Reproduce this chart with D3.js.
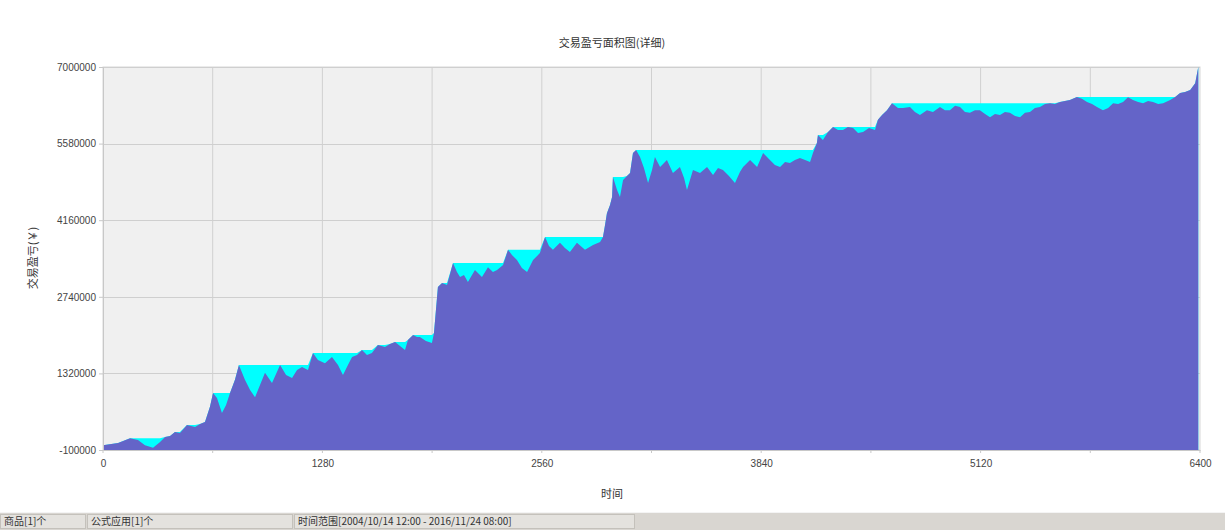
<!DOCTYPE html>
<html>
<head>
<meta charset="utf-8">
<script src="https://cdn.jsdelivr.net/npm/d3@7/dist/d3.min.js"></script>
<style>
  html, body { margin: 0; padding: 0; background: #ffffff; }
  svg { display: block; }
</style>
</head>
<body>
<svg id="chart" width="1225" height="530"></svg>
<script>
// ---- data ----
const title = "交易盈亏面积图(详细)";
const yLabel = "交易盈亏(￥)";
const xLabel = "时间";
const statusTexts = ["商品[1]个", "公式应用[1]个", "时间范围[2004/10/14 12:00 - 2016/11/24 08:00]"];

const xTicks = [0, 1280, 2560, 3840, 5120, 6400];
const yTicks = [-100000, 1320000, 2740000, 4160000, 5580000, 7000000];

const times = [0,88,158,204,245,292,333,362,391,420,449,490,537,566,595,624,642,665,694,718,741,770,793,828,858,887,916,945,986,1033,1068,1103,1132,1161,1196,1225,1254,1295,1336,1371,1400,1429,1453,1482,1511,1540,1569,1604,1645,1674,1704,1733,1762,1779,1809,1832,1849,1884,1919,1931,1954,1978,2007,2042,2065,2083,2106,2129,2170,2211,2246,2275,2299,2334,2363,2386,2415,2444,2474,2509,2549,2579,2602,2625,2666,2695,2724,2765,2812,2859,2900,2917,2929,2940,2958,2970,2975,2999,3016,3034,3057,3075,3092,3110,3133,3156,3180,3203,3220,3250,3273,3290,3325,3366,3390,3407,3442,3483,3524,3559,3588,3617,3652,3687,3716,3734,3775,3816,3851,3891,3920,3950,3979,4008,4037,4066,4096,4125,4142,4165,4171,4200,4230,4259,4288,4317,4346,4376,4405,4434,4469,4504,4521,4545,4574,4603,4638,4667,4708,4737,4766,4807,4842,4883,4912,4941,4971,5000,5029,5058,5087,5116,5146,5175,5204,5233,5262,5291,5321,5350,5379,5408,5437,5466,5496,5525,5554,5583,5612,5641,5682,5711,5741,5770,5799,5834,5864,5893,5922,5951,5980,6009,6039,6068,6097,6126,6156,6185,6226,6255,6284,6313,6343,6372,6390];

const equity = [-10000,30000,120000,85000,-10000,-60000,50000,140000,160000,235000,215000,365000,325000,380000,420000,700000,955000,865000,585000,735000,955000,1200000,1475000,1200000,1010000,880000,1105000,1330000,1140000,1475000,1290000,1235000,1385000,1440000,1385000,1700000,1570000,1510000,1625000,1475000,1290000,1475000,1625000,1660000,1755000,1660000,1700000,1845000,1810000,1865000,1900000,1830000,1755000,1940000,2030000,1995000,1995000,1920000,1885000,2070000,2920000,2995000,2960000,3365000,3200000,3105000,3145000,3015000,3235000,3105000,3290000,3200000,3235000,3330000,3610000,3515000,3420000,3275000,3200000,3420000,3550000,3850000,3680000,3610000,3740000,3645000,3570000,3740000,3610000,3700000,3755000,3850000,4070000,4290000,4440000,4590000,4960000,4720000,4590000,4905000,4980000,5035000,5405000,5460000,5330000,5130000,4850000,5090000,5330000,5145000,5220000,5275000,5035000,5145000,4940000,4720000,5090000,5035000,5145000,5000000,5130000,5090000,4980000,4850000,5055000,5145000,5275000,5145000,5405000,5275000,5185000,5145000,5240000,5220000,5275000,5315000,5275000,5240000,5405000,5590000,5740000,5645000,5795000,5890000,5830000,5830000,5890000,5870000,5775000,5795000,5870000,5830000,6020000,6110000,6200000,6330000,6240000,6240000,6260000,6165000,6110000,6200000,6165000,6260000,6200000,6200000,6280000,6260000,6165000,6150000,6200000,6200000,6130000,6070000,6130000,6110000,6165000,6150000,6090000,6070000,6150000,6165000,6240000,6260000,6315000,6330000,6315000,6350000,6370000,6390000,6445000,6410000,6350000,6315000,6260000,6200000,6240000,6330000,6315000,6350000,6440000,6390000,6350000,6330000,6370000,6350000,6315000,6330000,6390000,6445000,6520000,6535000,6575000,6700000,7000000];

// ---- chart ----
const svg = d3.select("#chart");
const W = 1225, H = 530;
const plot = { left: 103, right: 1200, top: 67, bottom: 450 };
const cjk = "'Noto Sans CJK SC', 'Noto Sans', sans-serif";
const num = "'Liberation Sans', 'DejaVu Sans', sans-serif";

const x = d3.scaleLinear().domain([0, 6400]).range([plot.left, plot.right]);
const y = d3.scaleLinear().domain([-100000, 7000000]).range([plot.bottom, plot.top]);

// plot background
svg.append("rect")
  .attr("x", plot.left).attr("y", plot.top)
  .attr("width", plot.right - plot.left).attr("height", plot.bottom - plot.top)
  .attr("fill", "#f0f0f0").attr("stroke", "#d8d8d8");

// grid lines
const gridX = d3.range(640, 6400, 640);
svg.append("g").selectAll("line").data(gridX).join("line")
  .attr("x1", d => x(d)).attr("x2", d => x(d))
  .attr("y1", plot.top).attr("y2", plot.bottom)
  .attr("stroke", "#d0d0d0").attr("stroke-width", 1);
svg.append("g").selectAll("line").data(yTicks.slice(1)).join("line")
  .attr("x1", plot.left).attr("x2", plot.right)
  .attr("y1", d => Math.round(y(d)) + 0.5).attr("y2", d => Math.round(y(d)) + 0.5)
  .attr("stroke", "#cfcfcf").attr("stroke-width", 1);

const n = Math.min(times.length, equity.length);
const pts = d3.range(n).map(i => ({ t: times[i], v: equity[i] }));
// running maximum (the high-water mark) of the equity series
const peakPts = [];
let runMax = -Infinity;
for (const p of pts) { runMax = Math.max(runMax, p.v); peakPts.push({ t: p.t, v: runMax }); }

// drawdown (cyan) = running maximum area
svg.append("path").datum(peakPts)
  .attr("fill", "#00ffff")
  .attr("d", d3.area().x(d => x(d.t)).y0(y(-100000)).y1(d => y(d.v)));

// equity (purple) area
svg.append("path").datum(pts)
  .attr("fill", "#6464c8")
  .attr("d", d3.area().x(d => x(d.t)).y0(y(-100000)).y1(d => y(d.v)));

// axes
const xAxis = d3.axisBottom(x).tickValues(xTicks).tickSize(0).tickPadding(10).tickFormat(d => String(d));
const gx = svg.append("g").attr("transform", `translate(0,${plot.bottom})`).call(xAxis);
gx.select(".domain").attr("stroke", "#c8c8c8");
gx.selectAll("text").attr("font-family", num).attr("font-size", 10).attr("fill", "#444");

// small ticks under the x axis
svg.append("g").selectAll("line").data(d3.range(0, 6401, 640)).join("line")
  .attr("x1", d => x(d)).attr("x2", d => x(d))
  .attr("y1", plot.bottom).attr("y2", plot.bottom + 3)
  .attr("stroke", "#c8c8c8");

const yAxis = d3.axisLeft(y).tickValues(yTicks).tickSize(4).tickPadding(3).tickFormat(d => String(d));
const gy = svg.append("g").attr("transform", `translate(${plot.left},0)`).call(yAxis);
gy.select(".domain").attr("stroke", "#c8c8c8");
gy.selectAll(".tick line").attr("stroke", "#c8c8c8");
gy.selectAll("text").attr("font-family", num).attr("font-size", 10).attr("fill", "#444");

// title and labels
svg.append("text").attr("x", 612).attr("y", 47).attr("text-anchor", "middle")
  .attr("font-family", cjk).attr("font-size", 11).attr("fill", "#333").text(title);
svg.append("text").attr("x", 612).attr("y", 498).attr("text-anchor", "middle")
  .attr("font-family", cjk).attr("font-size", 11).attr("fill", "#333").text(xLabel);
svg.append("text").attr("transform", `translate(37,258) rotate(-90)`)
  .attr("text-anchor", "middle")
  .attr("font-family", cjk).attr("font-size", 11).attr("fill", "#333").text(yLabel);

// status bar
const sb = svg.append("g");
sb.append("rect").attr("x", 0).attr("y", 512).attr("width", W).attr("height", 18).attr("fill", "#d9d6d1");
sb.append("line").attr("x1", 0).attr("x2", W).attr("y1", 512.5).attr("y2", 512.5).attr("stroke", "#f4f4f4");
const panels = [{ x: 0, w: 85 }, { x: 87, w: 205 }, { x: 294, w: 340 }];
sb.selectAll("rect.panel").data(panels).join("rect").attr("class", "panel")
  .attr("x", d => d.x + 0.5).attr("y", 514.5).attr("width", d => d.w).attr("height", 14)
  .attr("fill", "#e4e2de").attr("stroke", "#c4c1bb");
sb.selectAll("text").data(statusTexts).join("text")
  .attr("x", (d, i) => panels[i].x + 4).attr("y", 525)
  .attr("font-family", cjk).attr("font-size", 10).attr("fill", "#333").text(d => d);
</script>
</body>
</html>
